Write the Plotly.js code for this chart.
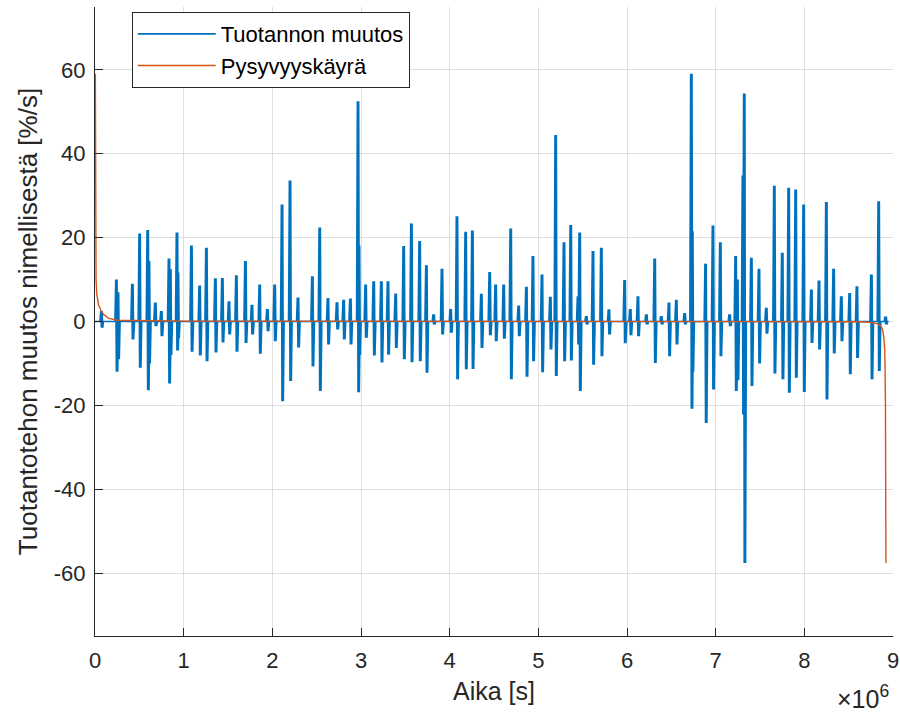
<!DOCTYPE html>
<html><head><meta charset="utf-8">
<script src="https://cdn.plot.ly/plotly-3.0.1.min.js"></script>
<style>html,body{margin:0;padding:0;background:#fff}#chart{width:900px;height:718px}</style>
</head><body><div id="chart"></div>
<script>
// Time in units of 1e6 s
const burstX = [0.076,0.245,0.263,0.425,0.507,0.598,0.612,0.684,0.752,0.838,0.853,0.928,0.939,1.091,1.184,1.260,1.361,1.440,1.515,1.598,1.700,1.774,1.861,1.948,2.030,2.113,2.203,2.293,2.455,2.538,2.631,2.733,2.808,2.884,2.970,2.981,3.056,3.147,3.233,3.308,3.395,3.485,3.572,3.665,3.741,3.823,3.917,4.015,4.086,4.184,4.260,4.361,4.455,4.522,4.613,4.692,4.782,4.869,4.943,5.045,5.139,5.199,5.293,5.369,5.451,5.470,5.545,5.620,5.714,5.800,5.977,6.041,6.127,6.222,6.316,6.391,6.477,6.560,6.654,6.729,6.740,6.890,6.973,7.056,7.161,7.229,7.248,7.311,7.326,7.406,7.492,7.575,7.665,7.755,7.827,7.906,7.996,8.083,8.169,8.252,8.334,8.421,8.515,8.597,8.760,8.842,8.921];
const burstUp = [2.5,10,7,9,21,21.8,14.4,4.5,2.5,15,12.5,21.2,11.7,18.1,8.6,17.6,10.3,10.4,4.8,11,14.4,4,8.8,3,8.8,27.9,33.6,5.7,10.8,22.4,5.6,4.6,5.2,5.5,52.5,18.1,8.8,9.6,9.6,9.6,6.7,18,23.4,19.2,13.4,1.7,12.6,3,25.1,21.4,21.7,6.6,11.8,8.8,8.8,22.2,3.8,8.3,15.6,11.2,5.9,44.5,18.9,23,6,21.2,1.3,16.8,17.6,2.9,9.9,3,6,1.7,15,1.3,4.5,5.2,2,59.1,21.5,13.8,22.9,18.9,1.7,15.6,10,34.8,54.4,15.2,12.6,3.3,32.4,16.4,31.9,31.5,27.9,7.6,9.8,28.5,12.6,6,6.8,8.4,11.2,28.7,1.2];
const burstDown = [-1.5,-12,-9,-4.3,-11,-16.4,-10,-1.1,-3.5,-14.8,-8,-6.9,-4,-7.2,-8.1,-9.5,-7.4,-5,-3.1,-7.2,-5.1,-3.1,-7.7,-2.3,-4.7,-19,-14.2,-6.2,-10.7,-16.6,-5.5,-1.9,-4.3,-5.5,-16.9,-8,-3.9,-8.1,-9.8,-7.9,-6.3,-9,-9.7,-9.5,-12.2,-0.7,-3.1,-2.7,-13.8,-11.4,-11.3,-6.3,-3.3,-4.7,-4.1,-13.8,-3.5,-13.2,-9.5,-12.1,-6.7,-13,-9.5,-9.3,-5.5,-16.6,-0.7,-10.3,-8.3,-3.1,-5.2,-3.3,-3.5,-0.7,-9.9,-0.7,-8.3,-5.5,-0.7,-20.8,-12,-24.2,-16.2,-8.3,-1.1,-16.6,-14,-22.2,-57.6,-15.4,-10,-2.9,-12.4,-13.8,-17,-13.4,-16.8,-5.1,-6.7,-18.6,-7.6,-4.7,-12.6,-8.7,-13.8,-11.8,-0.7];

// Duration curve (Pysyvyyskäyrä)
const curveX = [0.004,0.006,0.008,0.012,0.02,0.04,0.07,0.1,0.15,0.25,1,4,8,8.6,8.75,8.82,8.86,8.88,8.895,8.905,8.91,8.915,8.92];
const curveY = [59.1,35,18,10,6.5,4,2.5,1.6,0.8,0.3,0.1,0.05,0,-0.05,-0.2,-0.5,-1,-1.8,-3.5,-6,-10,-20,-57.6];

const yTicks = [-60,-40,-20,0,20,40,60];
const xTicks = [0,1,2,3,4,5,6,7,8,9];

const bx = [0], by = [0];
for (let i = 0; i < burstX.length; i++) {
  const x = burstX[i];
  bx.push(x - 0.02, x - 0.011, x - 0.004, x + 0.004, x + 0.011, x + 0.02);
  by.push(0, burstUp[i], burstDown[i], burstUp[i], burstDown[i], 0);
}
bx.push(8.93); by.push(0);

const FONT = 'Liberation Sans, Arial, Helvetica, sans-serif';
const TXT = '#262626';

const traces = [
  {x: bx, y: by, type: 'scatter', mode: 'lines', name: 'Tuotannon muutos',
   line: {color: '#0072BD', width: 1.6}},
  {x: curveX, y: curveY, type: 'scatter', mode: 'lines', name: 'Pysyvyyskäyrä',
   line: {color: '#D95319', width: 1.4}}
];

const axisCommon = {
  showline: true, linecolor: '#262626', linewidth: 1, mirror: false,
  ticks: 'inside', ticklen: 8, tickcolor: '#262626', tickwidth: 1,
  showgrid: true, gridcolor: '#dfdfdf', gridwidth: 1, zeroline: false,
  tickfont: {family: FONT, size: 22, color: TXT}
};

const layout = {
  width: 900, height: 718,
  paper_bgcolor: '#fff', plot_bgcolor: '#fff',
  margin: {l: 95, r: 7, t: 7, b: 82},
  showlegend: true,
  legend: {x: 0.046, y: 0.992, xanchor: 'left', yanchor: 'top',
    bgcolor: '#fff', bordercolor: '#262626', borderwidth: 1,
    font: {family: FONT, size: 22, color: '#000'}, itemwidth: 78},
  xaxis: Object.assign({}, axisCommon, {
    range: [0, 9], tickvals: xTicks, ticktext: xTicks.map(String),
    ticklabelstandoff: 5,
    title: {text: 'Aika [s]', font: {family: FONT, size: 25, color: TXT}, standoff: 10}
  }),
  yaxis: Object.assign({}, axisCommon, {
    range: [-75, 75], tickvals: yTicks, ticktext: yTicks.map(String),
    ticklabelstandoff: 4,
    title: {text: 'Tuotantotehon muutos nimellisestä [%/s]', font: {family: FONT, size: 26, color: TXT}, standoff: 8}
  }),
  annotations: [{
    xref: 'paper', yref: 'paper', x: 0.998, y: -0.068, xanchor: 'right', yanchor: 'top',
    text: '×10<sup>6</sup>', showarrow: false, font: {family: FONT, size: 25, color: TXT}
  }]
};

Plotly.newPlot('chart', traces, layout, {displayModeBar: false, staticPlot: true});
</script>
</body></html>
